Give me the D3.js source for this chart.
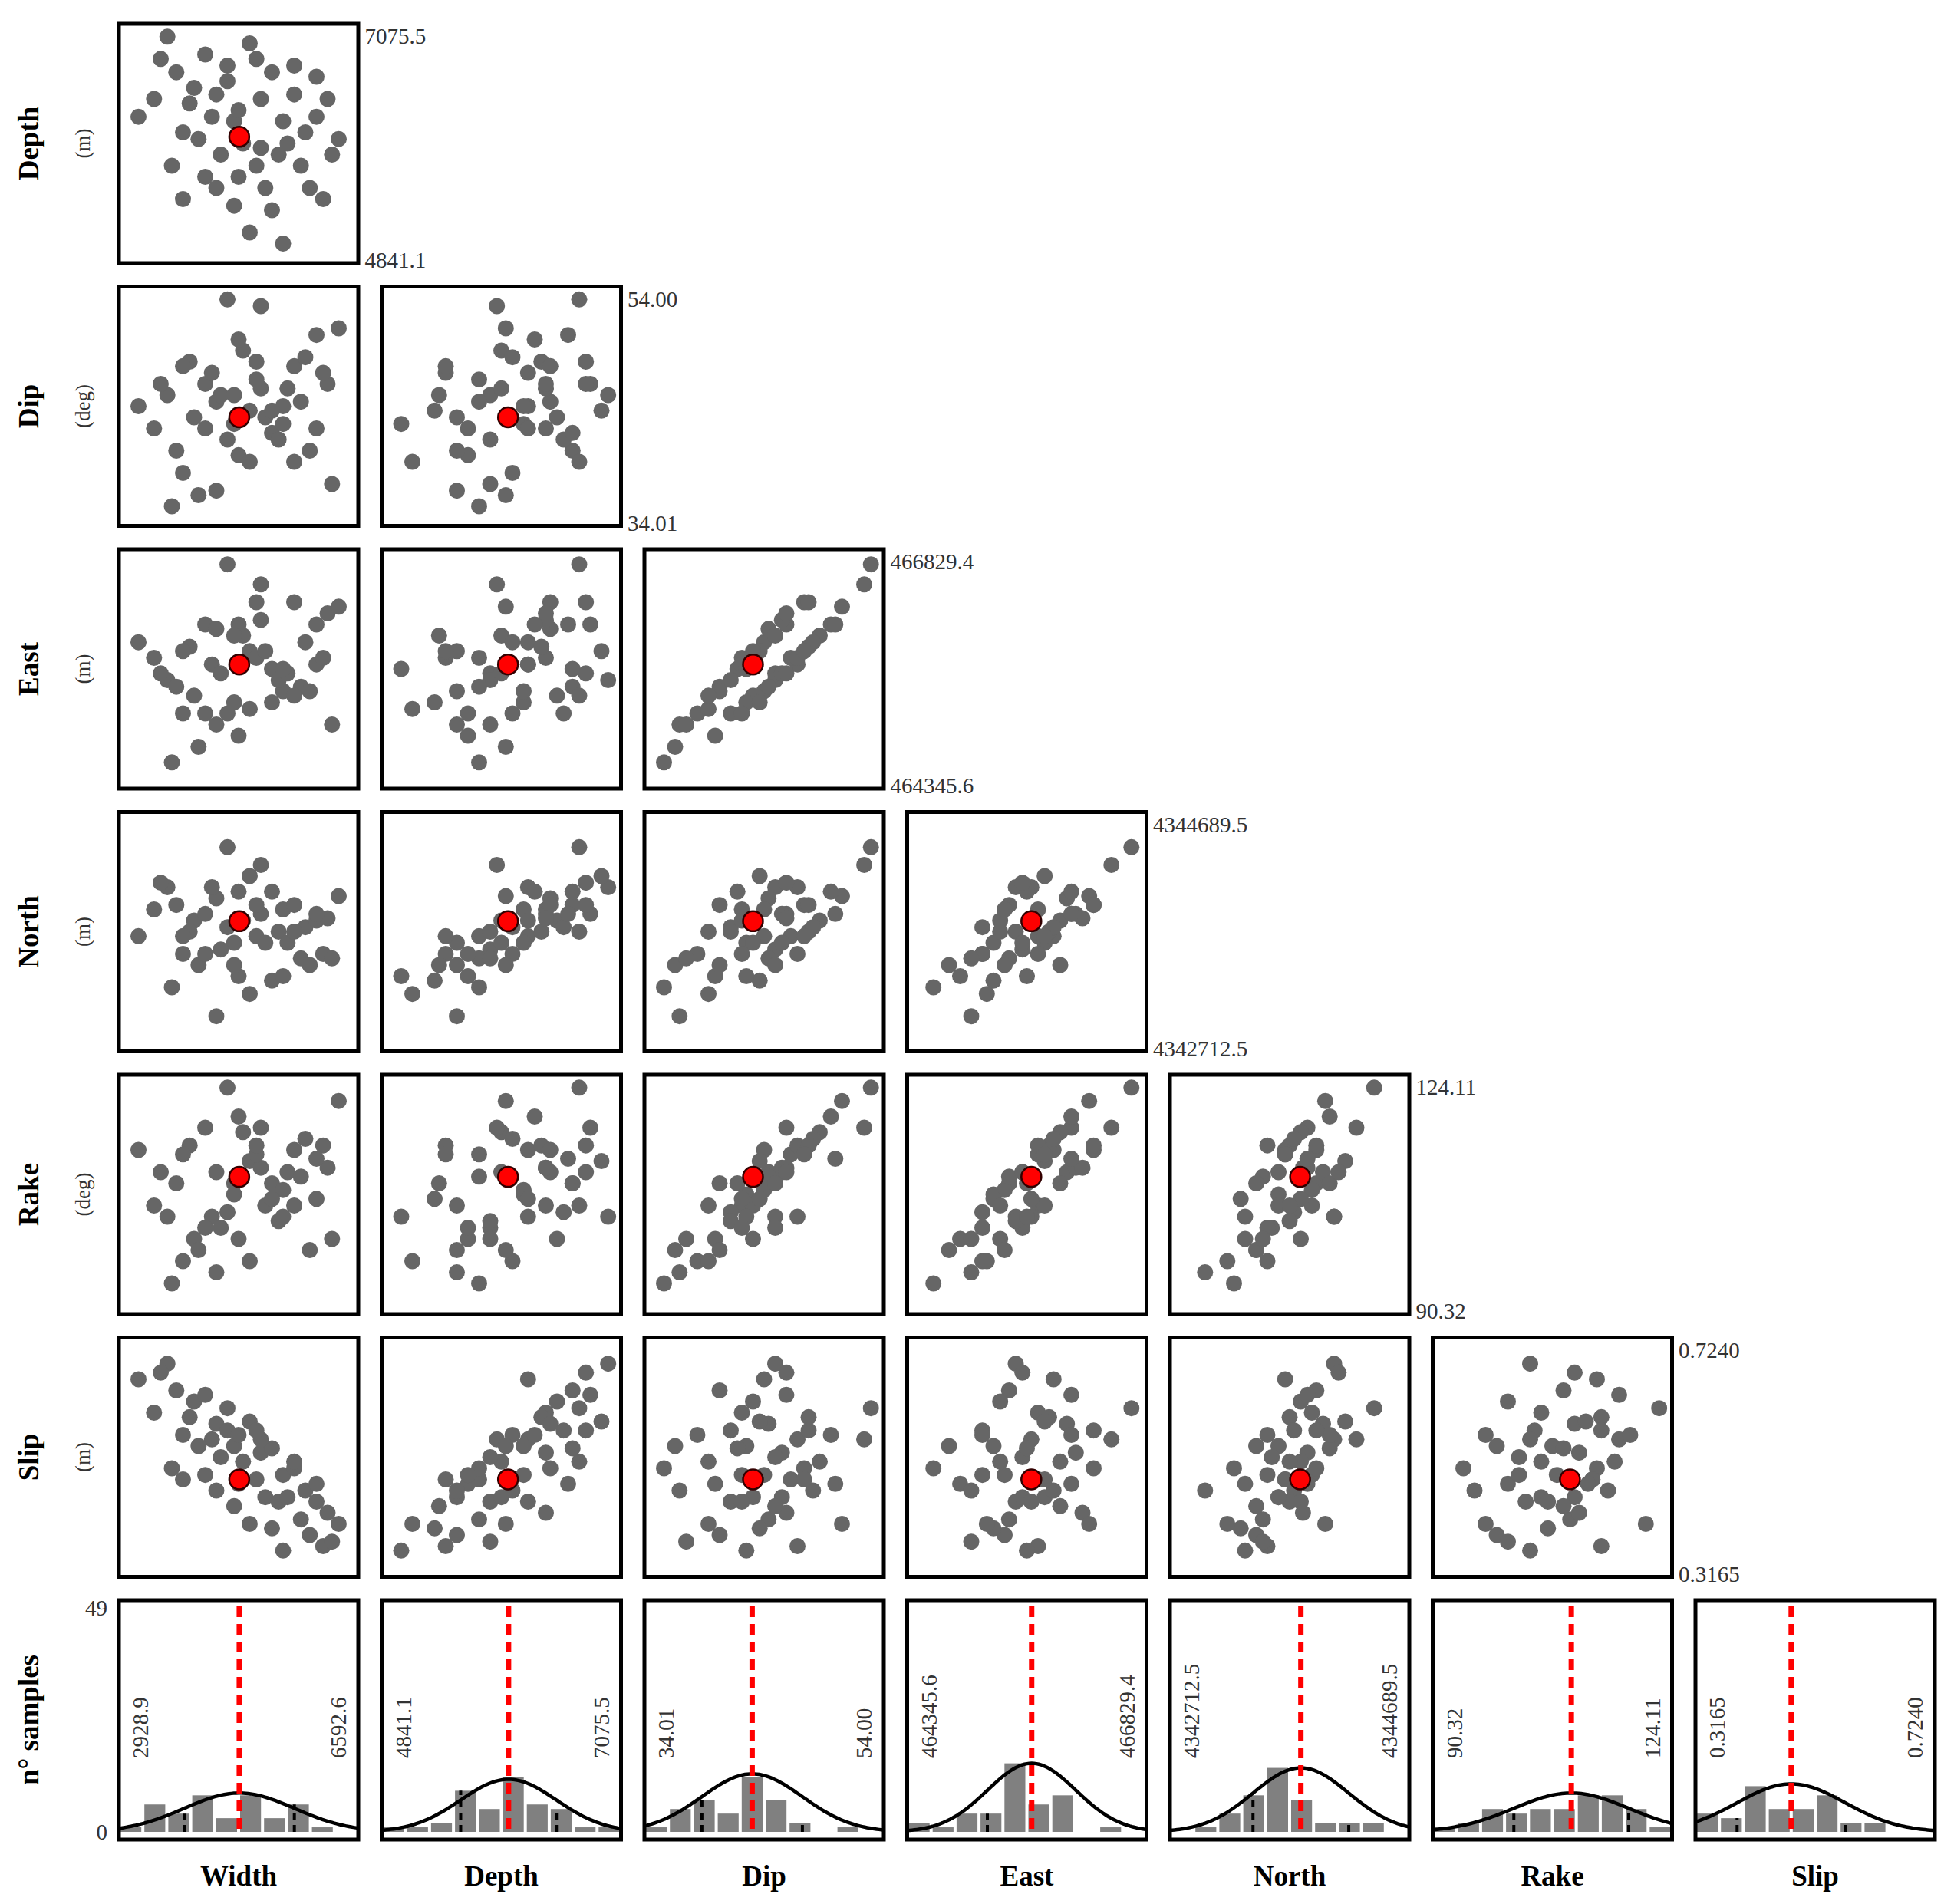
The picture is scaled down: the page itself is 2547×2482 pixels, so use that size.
<!DOCTYPE html>
<html><head><meta charset="utf-8">
<script src="https://cdn.jsdelivr.net/npm/d3@7"></script>
<style>body{margin:0;background:#fff}</style></head>
<body><svg id="c" width="2547" height="2482"></svg>
<script>
const params = ["Width","Depth","Dip","East","North","Rake","Slip"];
const units  = ["(m)","(m)","(deg)","(m)","(m)","(deg)","(m)"];
const minLabels = ["2928.9","4841.1","34.01","464345.6","4342712.5","90.32","0.3165"];
const maxLabels = ["6592.6","7075.5","54.00","466829.4","4344689.5","124.11","0.7240"];
const best = [50.3, 53, 45, 52, 54.7, 57.9, 40];
const sdPct = [23, 20, 21, 18.5, 20, 24, 22.6];
const gaussPeak = [8.5, 11.5, 12.7, 15, 14, 8.5, 10.5];
const histWidth = [1,6,4,8,3,8,3,6,1,0];
const histDepth = [1,1,2,9,5,12,6,5,1,1];
const histDip   = [1,5,7,4,12,7,2,0,1,0];
const histEast  = [2,1,4,4,15,6,8,0,1,0];
const histNorth = [0,1,4,8,14,7,2,2,2,0];
const histRake  = [1,2,5,4,5,5,8,8,5,1];
const histSlip  = [4,3,10,5,5,8,2,2,0,0];
const hists = [histWidth,histDepth,histDip,histEast,histNorth,histRake,histSlip];
const yMax = 49;
const sWidth = [5,18,22,30,35,12,28,40,45,38,55,48,25,60,52,42,65,58,70,75,50,62,80,68,72,85,78,90,95,82,65,55,88,70,60,45,32,20,40,50,15,58,75,35,92,48,25,85];
const sDepth = [62,98,82,75,90,70,68,72,78,62,95,60,55,70,50,45,82,40,60,72,35,30,55,45,50,62,40,70,52,30,20,10,25,5,48,85,52,40,30,65,88,88,85,35,45,22,25,80];
const sDip   = [50,55,30,45,60,40,70,52,35,65,48,42,20,58,75,55,38,62,50,68,28,45,72,35,58,40,52,60,85,30,48,25,65,42,95,98,10,5,12,80,60,70,25,40,15,55,68,82];
const sEast  = [62,45,42,38,70,55,60,68,30,52,58,35,30,72,65,48,50,55,40,80,20,58,62,45,48,52,42,75,78,40,35,32,55,50,88,97,15,8,25,70,48,80,38,30,25,65,58,70];
const sNorth = [48,70,62,55,58,60,50,65,52,70,75,45,40,58,55,42,68,48,60,62,30,45,52,50,45,55,38,56,66,35,28,22,40,30,80,88,35,25,12,68,72,62,50,40,38,35,48,58];
const sRake  = [70,40,55,30,80,45,72,60,42,40,65,50,20,62,78,35,55,68,52,70,30,45,75,38,60,48,58,62,92,25,48,20,72,40,80,98,25,10,15,85,60,72,45,35,30,55,68,66];
const sSlip  = [85,92,80,75,78,70,68,65,62,58,66,55,60,52,48,50,54,40,42,45,38,32,35,30,32,30,22,25,20,15,18,20,10,8,58,72,55,45,35,60,88,62,48,42,12,28,40,38];
const samples = [sWidth,sDepth,sDip,sEast,sNorth,sRake,sSlip];

const svg = d3.select("#c");
const L0 = 155, T0 = 31, STEP = 342.5, SZ = 312, PAD = 11;
const serif = "Liberation Serif, DejaVu Serif, serif";

function frame(g){
  g.append("rect").attr("x",0).attr("y",0).attr("width",SZ).attr("height",SZ)
   .attr("fill","none").attr("stroke","#000").attr("stroke-width",5);
}
const pos = d3.scaleLinear().domain([0,100]).range([PAD, SZ-PAD]);
const posY = d3.scaleLinear().domain([0,100]).range([SZ-PAD, PAD]);

for (let r=1;r<7;r++){
  for (let c=0;c<r;c++){
    const g = svg.append("g").attr("transform",`translate(${L0+c*STEP},${T0+(r-1)*STEP})`);
    const xs = samples[c], ys = samples[r];
    g.selectAll("circle.s").data(d3.range(xs.length)).join("circle")
      .attr("cx",i=>pos(xs[i])).attr("cy",i=>posY(ys[i])).attr("r",10.5).attr("fill","#666");
    g.append("circle").attr("cx",pos(best[c])).attr("cy",posY(best[r])).attr("r",13)
      .attr("fill","#f00").attr("stroke","#300").attr("stroke-width",2.5);
    frame(g);
  }
  const ty = T0+(r-1)*STEP, tx = L0+r*STEP-22;
  svg.append("text").attr("x",tx).attr("y",ty+26).text(maxLabels[r])
    .attr("font-family",serif).attr("font-size",29).attr("fill","#333");
  svg.append("text").attr("x",tx).attr("y",ty+SZ+6).text(minLabels[r])
    .attr("font-family",serif).attr("font-size",29).attr("fill","#333");
  const cy = ty+SZ/2;
  svg.append("text").attr("transform",`translate(50,${cy}) rotate(-90)`).attr("text-anchor","middle")
    .attr("font-family",serif).attr("font-weight","bold").attr("font-size",37).text(params[r]);
  svg.append("text").attr("transform",`translate(117,${cy}) rotate(-90)`).attr("text-anchor","middle")
    .attr("font-family",serif).attr("font-size",27).attr("fill","#333").text(units[r]);
}

const hy = d3.scaleLinear().domain([0,yMax]).range([SZ-10, 10]);
const hx = d3.scaleLinear().domain([0,100]).range([0, SZ]);
const HT = T0+6*STEP;
for (let c=0;c<7;c++){
  const g = svg.append("g").attr("transform",`translate(${L0+c*STEP},${HT})`);
  const h = hists[c], bw = 10;
  g.selectAll("rect.b").data(h).join("rect")
    .attr("x",(d,i)=>hx(i*bw)+2).attr("width",hx(bw)-hx(0)-4)
    .attr("y",d=>hy(d)).attr("height",d=>hy(0)-hy(d)).attr("fill","#808080");
  [best[c]-sdPct[c], best[c]+sdPct[c]].forEach(v=>{
    const bin = Math.min(9,Math.max(0,Math.floor(v/bw)));
    g.append("line").attr("x1",hx(v)).attr("x2",hx(v)).attr("y1",hy(0)).attr("y2",hy(h[bin]))
      .attr("stroke","#000").attr("stroke-width",4).attr("stroke-dasharray","9,7");
  });
  const gauss = d3.range(0,100.5,1).map(v=>[v, gaussPeak[c]*Math.exp(-0.5*Math.pow((v-best[c])/sdPct[c],2))]);
  g.append("path").attr("d",d3.line().x(d=>hx(d[0])).y(d=>hy(d[1]))(gauss))
    .attr("fill","none").attr("stroke","#000").attr("stroke-width",4.5);
  g.append("line").attr("x1",hx(best[c])).attr("x2",hx(best[c])).attr("y1",8).attr("y2",SZ-6)
    .attr("stroke","#f00").attr("stroke-width",7).attr("stroke-dasharray","14,9");
  g.append("text").attr("transform",`translate(38,${SZ*0.66}) rotate(-90)`)
    .attr("font-family",serif).attr("font-size",29).attr("fill","#333").text(minLabels[c]);
  g.append("text").attr("transform",`translate(${SZ-16},${SZ*0.66}) rotate(-90)`)
    .attr("font-family",serif).attr("font-size",29).attr("fill","#333").text(maxLabels[c]);
  frame(g);
  svg.append("text").attr("x",L0+c*STEP+SZ/2).attr("y",HT+SZ+60).attr("text-anchor","middle")
    .attr("font-family",serif).attr("font-weight","bold").attr("font-size",37).text(params[c]);
}
svg.append("text").attr("x",140).attr("y",HT+hy(yMax)+10).attr("text-anchor","end")
  .attr("font-family",serif).attr("font-size",29).attr("fill","#333").text(yMax);
svg.append("text").attr("x",140).attr("y",HT+hy(0)+10).attr("text-anchor","end")
  .attr("font-family",serif).attr("font-size",29).attr("fill","#333").text("0");
svg.append("text").attr("transform",`translate(50,${HT+SZ/2}) rotate(-90)`).attr("text-anchor","middle")
  .attr("font-family",serif).attr("font-weight","bold").attr("font-size",37).text("n° samples");
</script></body></html>
